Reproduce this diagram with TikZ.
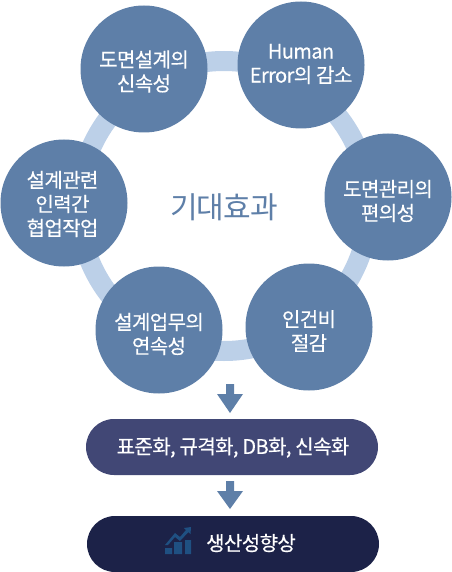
\documentclass[tikz,border=0pt]{standalone}
\usepackage{fontspec}
\setmainfont{Noto Sans CJK KR}[LetterSpace=-3,FakeBold=0.4]
\newfontfamily\plainf{Noto Sans CJK KR}[LetterSpace=-3]
\definecolor{disc}{HTML}{5E7FA8}
\definecolor{ringc}{HTML}{BCD0E8}
\definecolor{pilla}{HTML}{414775}
\definecolor{pillb}{HTML}{1C2248}
\definecolor{iconc}{HTML}{1F5082}
\tikzset{
  discnode/.style={circle,fill=disc,minimum size=127pt,inner sep=0pt},
  caption/.style={text=white,align=center,inner sep=0pt,font=\fontsize{20}{24}\selectfont},
  pill/.style={rounded corners=28pt,minimum width=292pt,minimum height=56pt,inner sep=0pt},
  flow/.style={fill=disc}
}
\begin{document}
\begin{tikzpicture}[x=1pt,y=-1pt]
\useasboundingbox (0,0) rectangle (451,572);
\draw[ringc,line width=20pt] (224,206) circle[radius=145pt];
\node[discnode] (a) at (144,69) {};
\node[discnode] (b) at (301,65) {};
\node[discnode] (c) at (388,197) {};
\node[discnode] (d) at (309,327) {};
\node[discnode] (e) at (159,330) {};
\node[discnode] (f) at (64,203) {};
\node[caption,yshift=-2.5pt] (at) at (a) {도면설계의\\신속성};
\node[caption,yshift=1pt] (bt) at (b) {Human\\Error의 감소};
\node[caption,yshift=-4pt] (ct) at (c) {도면관리의\\편의성};
\node[caption,yshift=-4pt] (dt) at (d) {인건비\\절감};
\node[caption,yshift=-4pt] (et) at (e) {설계업무의\\연속성};
\node[caption,yshift=-1pt,xshift=-1.5pt] (ft) at (f) {설계관련\\인력간\\협업작업};
\node[text=disc,font=\fontsize{30}{30}\plainf] (t) at (224,207) {기대효과};
\fill[flow] (226,384) -- (234,384) -- (234,394) -- (243,394) -- (230,413) -- (217,394) -- (226,394) -- cycle;
\node[pill,fill=pilla] (p) at (232,447) {};
\node[caption] (pt) at (233,447.5) {표준화, 규격화, DB화, 신속화};
\fill[flow] (226,481) -- (234,481) -- (234,491) -- (243,491) -- (230,509) -- (217,491) -- (226,491) -- cycle;
\node[pill,fill=pillb] (q) at (233,544) {};
\node[caption] (qt) at (251,543) {생산성향상};
\fill[iconc] (165,548) rectangle (172,554) (174,542) rectangle (182,554) (185,540) rectangle (191,554);
\fill[iconc] (165,545) -- (175,533) -- (180,537) -- (186,530) -- (184,528) -- (191,527) -- (190.5,534) -- (188.5,532) -- (180,541) -- (175,537) -- (168,545) -- cycle;
\end{tikzpicture}
\end{document}
